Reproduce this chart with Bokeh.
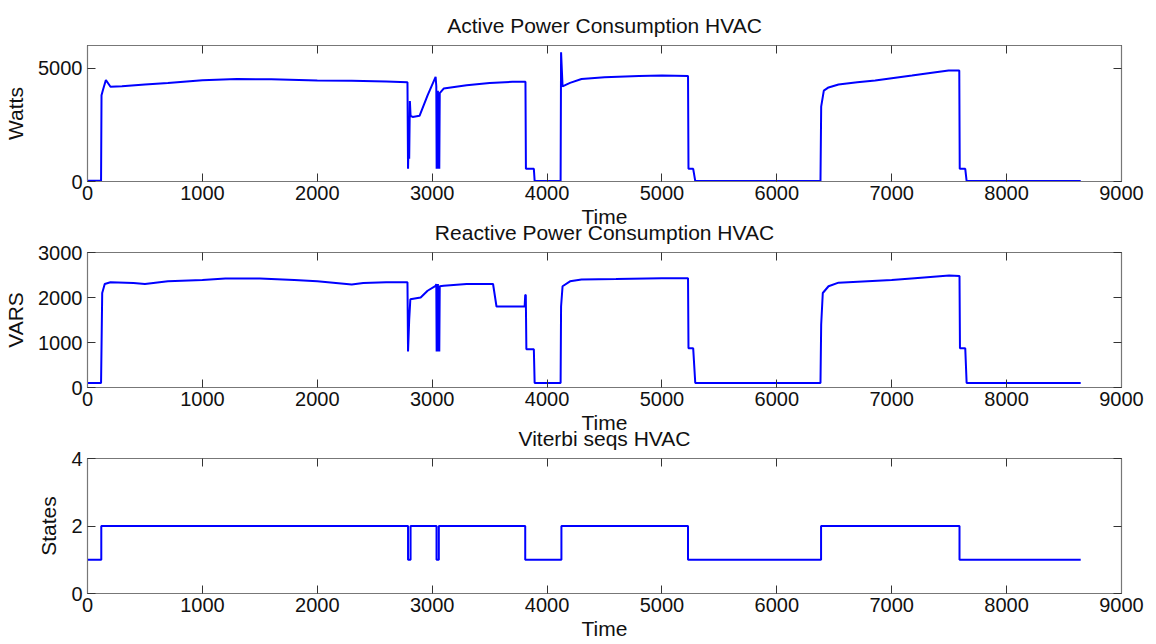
from bokeh.plotting import figure
from bokeh.models import LinearAxis, FixedTicker, Range1d, CustomJSTickFormatter
from bokeh.layouts import column
from bokeh.embed import file_html
from bokeh.resources import INLINE

# ---------------- data ----------------
x_ticks = [0, 1000, 2000, 3000, 4000, 5000, 6000, 7000, 8000, 9000]

t_active = [0, 118, 122, 135, 160, 200, 300, 500, 700, 1000, 1300, 1600, 2000, 2300, 2600, 2785,
            2790, 2796, 2800, 2806, 2812, 2830, 2890, 2960, 3030, 3036, 3039, 3043, 3046, 3050,
            3053, 3057, 3062, 3066, 3100, 3300, 3500, 3700, 3812, 3816, 3885, 3892, 4118, 4122,
            4135, 4200, 4300, 4500, 4800, 5000, 5227, 5231, 5272, 5290, 6380, 6386, 6409, 6450,
            6537, 6700, 6856, 7000, 7176, 7350, 7495, 7588, 7592, 7640, 7652, 8645]
watts = [30, 30, 3800, 4050, 4480, 4180, 4200, 4280, 4350, 4470, 4520, 4510, 4460, 4440, 4410, 4380,
         560, 2000, 1000, 3550, 2900, 2850, 2900, 3800, 4620, 4200, 560, 4000, 560, 4000,
         560, 3900, 560, 3900, 4100, 4250, 4350, 4400, 4400, 560, 560, 20, 20, 5700,
         4200, 4350, 4520, 4600, 4650, 4680, 4650, 560, 560, 20, 20, 3300, 4010, 4150,
         4280, 4380, 4460, 4560, 4680, 4800, 4900, 4900, 560, 560, 20, 20]

t_reactive = [0, 118, 122, 128, 150, 200, 400, 500, 700, 1000, 1200, 1500, 1800, 2000, 2300, 2400,
              2600, 2785, 2790, 2800, 2810, 2900, 2960, 3030, 3036, 3039, 3043, 3046, 3050, 3053,
              3057, 3062, 3066, 3100, 3300, 3530, 3560, 3805, 3810, 3815, 3820, 3885, 3892, 4118,
              4122, 4135, 4200, 4300, 4600, 5000, 5227, 5231, 5272, 5290, 6380, 6386, 6400, 6450,
              6537, 7000, 7200, 7500, 7590, 7594, 7640, 7652, 8645]
vars_ = [100, 100, 900, 2100, 2300, 2340, 2320, 2300, 2360, 2390, 2420, 2420, 2390, 2360, 2290, 2320,
         2340, 2340, 800, 1500, 1960, 2000, 2150, 2260, 2300, 800, 2300, 800, 2300, 800,
         2250, 800, 2250, 2260, 2300, 2300, 1800, 1800, 2060, 2050, 850, 850, 100, 100,
         1800, 2250, 2360, 2400, 2410, 2430, 2430, 870, 870, 100, 100, 1400, 2100, 2250,
         2330, 2390, 2430, 2490, 2480, 870, 870, 100, 100]

t_state = [0, 120, 2790, 2812, 3038, 3058, 3810, 4125, 5227, 6385, 7590, 8645]
states = [1, 2, 1, 2, 1, 2, 1, 2, 1, 2, 1, 1]

FONT = "Liberation Sans"
BLUE = "#0000FF"
W = 1156


def mirror_axis(ticks):
    return LinearAxis(ticker=FixedTicker(ticks=ticks), major_tick_in=8, major_tick_out=0,
                      minor_tick_line_color=None,
                      formatter=CustomJSTickFormatter(code="return '';"),
                      major_label_standoff=0, axis_line_color="#777777",
                      major_tick_line_color="#333333")


def make(title, ylabel, ymax, yticks, height, btop, bbottom, transparent):
    p = figure(width=W, height=height, output_backend="svg", toolbar_location=None,
               x_range=Range1d(0, 9000), y_range=Range1d(0, ymax),
               min_border_left=87, min_border_right=35,
               min_border_top=btop, min_border_bottom=bbottom,
               title=title)
    p.title.align = "center"
    p.title.text_font = FONT
    p.title.text_font_size = "21px"
    p.title.text_font_style = "normal"
    p.title.text_color = "#111111"
    p.title.standoff = 17
    p.grid.visible = False
    p.outline_line_color = "#777777"
    p.outline_line_width = 1.2
    if transparent:
        p.border_fill_color = None
    for ax in p.xaxis + p.yaxis:
        ax.major_tick_in = 8
        ax.major_tick_out = 0
        ax.minor_tick_line_color = None
        ax.axis_line_color = "#777777"
        ax.major_tick_line_color = "#333333"
        ax.major_label_text_font = FONT
        ax.major_label_text_font_size = "20px"
        ax.major_label_text_color = "#111111"
        ax.axis_label_text_font = FONT
        ax.axis_label_text_font_size = "21px"
        ax.axis_label_text_font_style = "normal"
        ax.axis_label_text_color = "#111111"
    p.xaxis.ticker = FixedTicker(ticks=x_ticks)
    p.yaxis.ticker = FixedTicker(ticks=yticks)
    p.xaxis.axis_label = "Time"
    p.xaxis.major_label_standoff = 4
    p.xaxis.axis_label_standoff = 2
    p.yaxis.axis_label = ylabel
    p.yaxis.major_label_standoff = 5
    p.yaxis.axis_label_standoff = 8
    # mirrored ticks (box style)
    p.add_layout(mirror_axis(x_ticks), "above")
    p.add_layout(mirror_axis(yticks), "right")
    return p


p1 = make("Active Power Consumption HVAC", "Watts", 6000, [0, 5000], 240, 45, 59, False)
p1.line(t_active, watts, line_color=BLUE, line_width=2)

p2 = make("Reactive Power Consumption HVAC", "VARS", 3000, [0, 1000, 2000, 3000], 246, 52, 59, True)
p2.line(t_reactive, vars_, line_color=BLUE, line_width=2)
p2.margin = (-40, 0, 0, 0)

p3 = make("Viterbi seqs HVAC", "States", 4, [0, 2, 4], 238, 52, 51, True)
p3.step(t_state, states, mode="after", line_color=BLUE, line_width=2)
p3.margin = (-40, 0, 0, 0)

layout = column(p1, p2, p3, spacing=0)
open("out.html", "w").write(file_html(layout, INLINE))
